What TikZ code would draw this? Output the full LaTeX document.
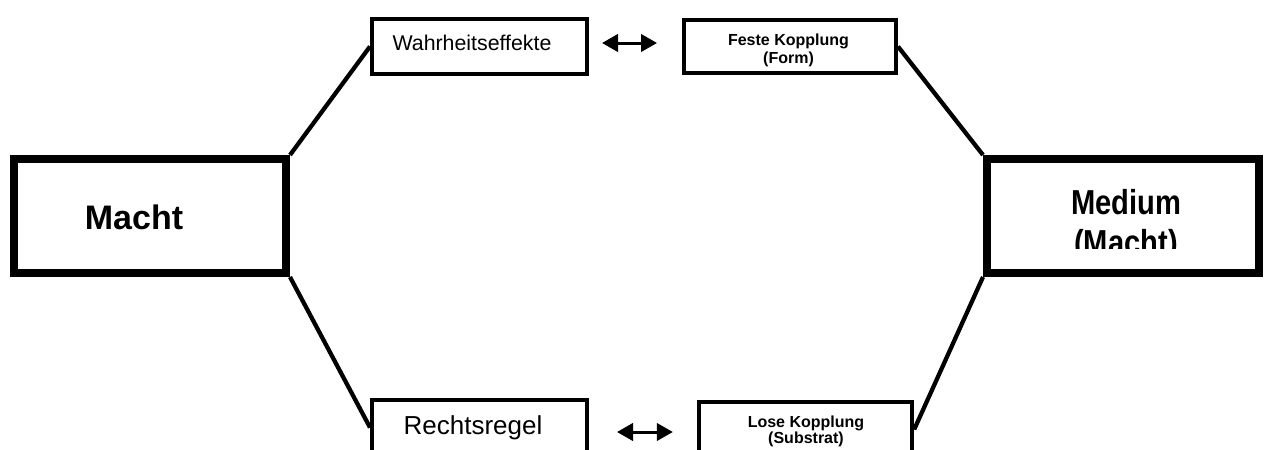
\documentclass[tikz,border=0pt]{standalone}
\usepackage{fontspec}
\setmainfont{Liberation Sans}
\newfontfamily\narrowsans[FakeStretch=0.84]{Liberation Sans}
\usetikzlibrary{arrows.meta,calc}
\begin{document}
\begin{tikzpicture}[x=0.75pt,y=-0.75pt,
  bigbox/.style={draw,line width=6pt,minimum width=204pt,minimum height=85.5pt,inner sep=0pt,fill=white},
  smallbox/.style={draw,line width=3pt,minimum width=161.25pt,minimum height=41.25pt,inner sep=0pt,fill=white},
  link/.style={line width=3.2pt},
  dblarrow/.style={line width=2.25pt,{Triangle[length=12pt,width=13pt]}-{Triangle[length=12pt,width=13pt]}},
  txt/.style={anchor=base,inner sep=0pt,align=center}]
\useasboundingbox (0,0) rectangle (1265,450);
\clip (0,0) rectangle (1265,450);
% boxes
\node[bigbox] (macht) at (150,216) {};
\node[bigbox] (medium) at (1123,216) {};
\node[smallbox] (wahr) at (479.5,46.5) {};
\node[smallbox,minimum width=159pt,minimum height=39.75pt] (feste) at (790,46.5) {};
\node[smallbox] (rechts) at (479.5,427.5) {};
\node[smallbox,minimum width=160pt] (lose) at (805.5,429.5) {};
% connectors
\draw[link] (macht.north east) -- (wahr.west);
\draw[link] (macht.south east) -- (rechts.west);
\draw[link] (feste.east) -- (medium.north west);
\draw[link] (lose.east) -- (medium.south west);
\draw[dblarrow] ($(wahr.east)+(13,-3.5)$) -- ($(feste.west)+(-25,-3.5)$);
\draw[dblarrow] ($(rechts.east)+(28,4.5)$) -- ($(lose.west)+(-24,2.5)$);
% texts
\node[txt,font=\bfseries\fontsize{25.5}{30}\selectfont] (machttxt) at (134,229) {Macht};
\begin{scope}
\clip (983,150) rectangle (1263,248);
\node[txt,font=\narrowsans\bfseries\fontsize{26}{30}\selectfont] (mediumtxt) at (1126,214) {Medium};
\node[txt,font=\narrowsans\bfseries\fontsize{26}{30}\selectfont] (mediumtxtb) at (1126,254) {(Macht)};
\end{scope}
\node[txt,font=\fontsize{16}{19}\selectfont] (wahrtxt) at (472,50) {Wahrheitseffekte};
\node[txt,font=\fontsize{19.5}{23}\selectfont] (rechtstxt) at (473,434) {Rechtsregel};
\node[txt,font=\bfseries\fontsize{12}{14}\selectfont] (festetxt) at (788.5,45) {Feste Kopplung};
\node[txt,font=\bfseries\fontsize{12}{14}\selectfont] (festetxtb) at (788.5,63) {(Form)};
\node[txt,font=\bfseries\fontsize{12}{14}\selectfont] (losetxt) at (806,427) {Lose Kopplung};
\node[txt,font=\bfseries\fontsize{12}{14}\selectfont] (losetxtb) at (806,443) {(Substrat)};
\end{tikzpicture}
\end{document}
